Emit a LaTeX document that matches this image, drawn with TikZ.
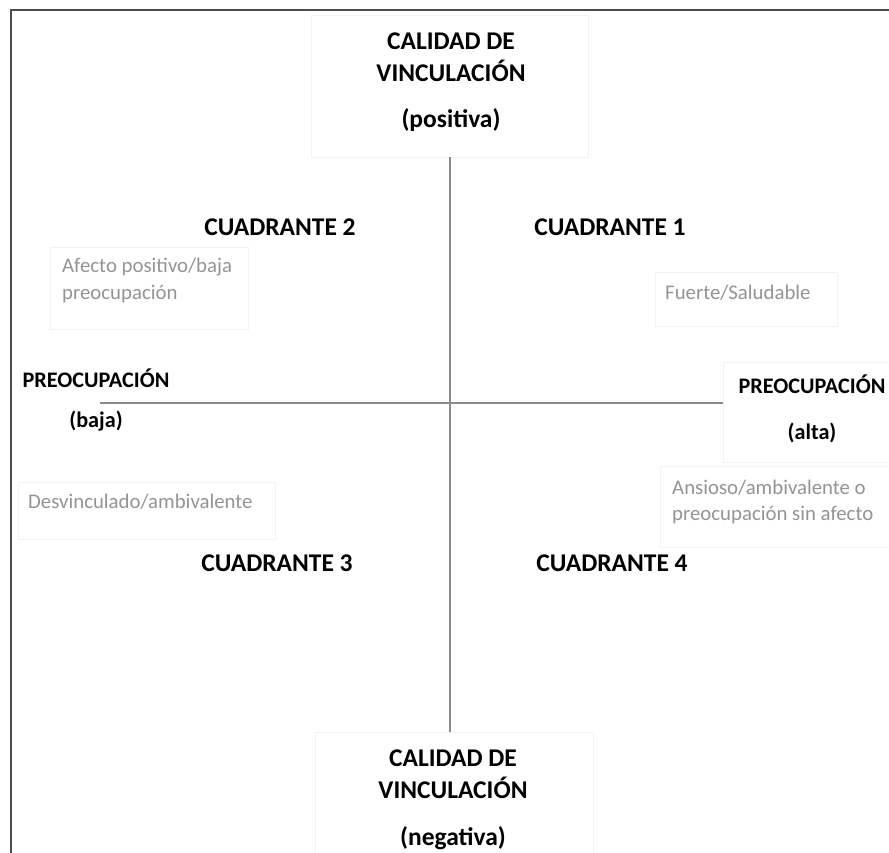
\documentclass[tikz,border=0pt]{standalone}
\usepackage{fontspec}
\setmainfont{Carlito}
\begin{document}
\begin{tikzpicture}[x=1pt,y=-1pt,
  faintbox/.style={draw=black!5,line width=0.8pt,inner sep=0pt},
  head/.style={font=\bfseries\fontsize{25.5}{28}\selectfont,inner sep=0pt,text=black},
  headsm/.style={font=\bfseries\fontsize{22.2}{26}\selectfont,inner sep=0pt,text=black},
  note/.style={font=\fontsize{20.8}{24}\selectfont,inner sep=0pt,text=black!42,anchor=west},
  axis/.style={draw=black!45,line width=1.8pt}]
\useasboundingbox (0,0) rectangle (889,852);
\fill[white] (0,0) rectangle (889,852);
% outer frame
\draw[black!70,line width=2pt] (11,860) -- (11,10) -- (895,10);
% boxes
\node[faintbox,minimum width=277,minimum height=142] (topbox) at (450,86) {};
\node[faintbox,minimum width=278,minimum height=125] (botbox) at (454,795) {};
\node[faintbox,minimum width=198,minimum height=82] (q2box) at (149,288) {};
\node[faintbox,minimum width=182,minimum height=54] (q1box) at (746,299) {};
\node[faintbox,minimum width=257,minimum height=57] (q3box) at (146.5,510.5) {};
\node[faintbox,minimum width=235,minimum height=81] (q4box) at (777.5,506.5) {};
\node[faintbox,minimum width=175,minimum height=100] (rightbox) at (810.5,412) {};
% axes
\coordinate (leftend) at (100,403);
\draw[axis] (topbox.south) -- (topbox.south |- botbox.north);
\draw[axis] (leftend) -- (rightbox.west |- leftend);
% top texts
\node[head] (t1) at (451,41) {CALIDAD DE};
\node[head] (t2) at (451,71) {VINCULACIÓN};
\node[head] (t3) at (451,120) {(positiva)};
% bottom texts
\node[head] (b1) at (453,758) {CALIDAD DE};
\node[head] (b2) at (453,788) {VINCULACIÓN};
\node[head] (b3) at (453,838) {(negativa)};
% quadrants
\node[head] (c2) at (280,227) {CUADRANTE 2};
\node[head] (c1) at (610,227) {CUADRANTE 1};
\node[head] (c3) at (277,563) {CUADRANTE 3};
\node[head] (c4) at (612,563) {CUADRANTE 4};
% left / right axis labels
\node[headsm] (pl) at (96,378) {PREOCUPACIÓN};
\node[headsm] (pb) at (96,421) {(baja)};
\node[headsm] (pr) at (812,384) {PREOCUPACIÓN};
\node[headsm] (pa) at (812,433) {(alta)};
% notes
\node[note] (n2a) at (62,267) {Afecto positivo/baja};
\node[note] (n2b) at (62,294) {preocupación};
\node[note] (n1) at (665,293) {Fuerte/Saludable};
\node[note] (n3) at (28,502) {Desvinculado/ambivalente};
\node[note] (n4a) at (672,488) {Ansioso/ambivalente o};
\node[note] (n4b) at (672,515) {preocupación sin afecto};
\end{tikzpicture}
\end{document}
